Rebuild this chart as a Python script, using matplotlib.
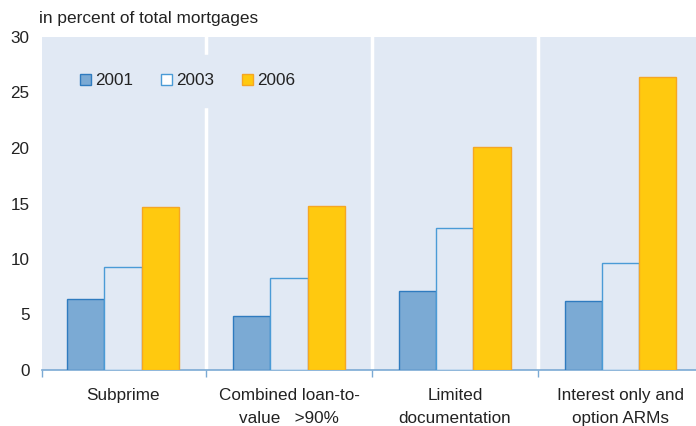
import matplotlib.pyplot as plt
import numpy as np
from matplotlib.patches import Patch

plt.rcParams["font.family"] = ["Liberation Sans", "DejaVu Sans"]

categories = ["Subprime", "Combined loan-to-\nvalue   >90%", "Limited\ndocumentation",
              "Interest only and\noption ARMs"]
years = ["2001", "2003", "2006"]
v2001 = [6.4, 4.9, 7.1, 6.2]
v2003 = [9.3, 8.3, 12.8, 9.6]
v2006 = [14.7, 14.8, 20.1, 26.4]

bg = "#E1E9F4"
txt = "#222222"
W, H = 696, 426
fig = plt.figure(figsize=(W / 100, H / 100), dpi=100)
ax = fig.add_axes([42 / W, (H - 370) / H, (W - 42) / W, 333 / H])
ax.set_facecolor(bg)

x = np.arange(len(categories))
bw = 0.223
ax.bar(x - bw, v2001, bw, color="#7BAAD4", edgecolor="#2F7BBF", linewidth=1, zorder=3)
ax.bar(x, v2003, bw, color=bg, edgecolor="#4A9BD6", linewidth=1, zorder=3)
ax.bar(x + bw, v2006, bw, color="#FFC90F", edgecolor="#F5A623", linewidth=1, zorder=3)

for s in [0.5, 1.5, 2.5]:
    ax.axvline(s, color="white", linewidth=2.5, zorder=1)

ax.set_xlim(-0.488, 3.452)
ax.set_ylim(0, 30)
ax.set_yticks(range(0, 31, 5))
ax.tick_params(axis="y", length=0, labelsize=12.3, colors=txt, pad=9)
for sp in ["top", "right", "left"]:
    ax.spines[sp].set_visible(False)
ax.spines["bottom"].set_color("#7BAAD4")
ax.spines["bottom"].set_linewidth(1.2)

ax.set_xticks([-0.488, 0.5, 1.5, 2.5])
ax.set_xticklabels([])
ax.tick_params(axis="x", length=5, color="#7BAAD4", width=1)
for i, c in enumerate(categories):
    ax.text(i, -1.6, c, ha="center", va="top", fontsize=12.3, color=txt,
            linespacing=1.72)

fig.text(39 / W, 1 - 18 / H, "in percent of total mortgages", fontsize=12.4,
         color=txt, va="center")

handles = [Patch(facecolor="#7BAAD4", edgecolor="#2F7BBF"),
           Patch(facecolor="white", edgecolor="#4A9BD6"),
           Patch(facecolor="#FFC90F", edgecolor="#F5A623")]
leg = ax.legend(handles, years, ncol=3, loc="center left",
                bbox_to_anchor=(0.029, 0.868), frameon=True, fontsize=12.3,
                handlelength=0.66, handleheight=0.66, handletextpad=0.25,
                columnspacing=1.6, borderpad=1.1, borderaxespad=0)
leg.get_frame().set_facecolor(bg)
leg.get_frame().set_edgecolor(bg)
leg.get_frame().set_alpha(1)
leg.get_frame().set_boxstyle("square", pad=0)
leg.set_zorder(4)
for t in leg.get_texts():
    t.set_color(txt)

fig.savefig("out.png", dpi=100)
